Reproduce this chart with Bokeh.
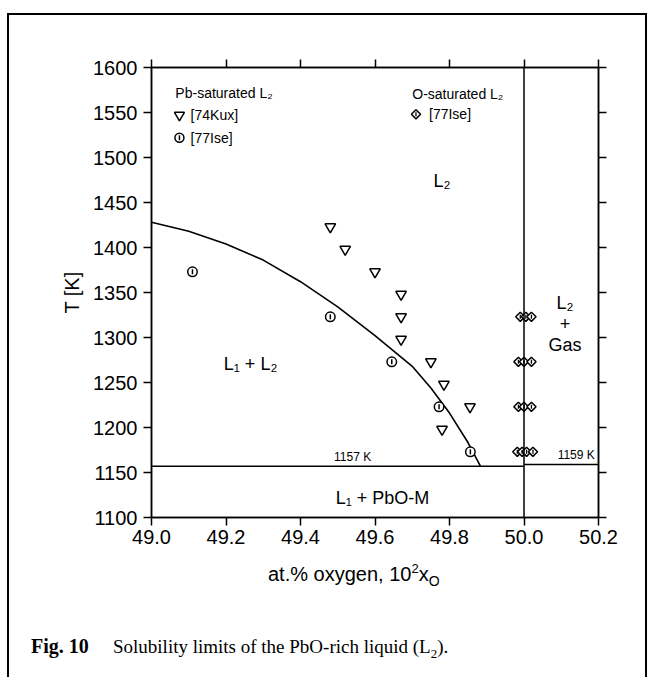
import math
from bokeh.plotting import figure
from bokeh.layouts import column
from bokeh.models import Range1d, LinearAxis, FixedTicker, Label, Span, PrintfTickFormatter, Div
from bokeh.embed import file_html
from bokeh.resources import INLINE

# ---------------- data ----------------
x_ticks = [49.0, 49.2, 49.4, 49.6, 49.8, 50.0, 50.2]
y_ticks = [1100, 1150, 1200, 1250, 1300, 1350, 1400, 1450, 1500, 1550, 1600]

# solubility limit (calculated curve)
curve_x = [49.0, 49.1, 49.2, 49.3, 49.4, 49.5, 49.6, 49.7, 49.75, 49.8, 49.85, 49.883]
curve_T = [1428, 1418, 1404, 1386, 1362, 1334, 1302, 1268, 1244, 1216, 1183, 1157]

# Pb-saturated L2, [74Kux]
kux_x = [49.48, 49.52, 49.60, 49.67, 49.67, 49.67, 49.75, 49.785, 49.855, 49.78]
kux_T = [1423, 1398, 1373, 1348, 1323, 1298, 1273, 1248, 1223, 1198]

# Pb-saturated L2, [77Ise]
ise_pb_x = [49.11, 49.48, 49.645, 49.772, 49.856]
ise_pb_T = [1373, 1323, 1273, 1223, 1173]

# O-saturated L2, [77Ise]
ise_o_x = [49.99, 50.005, 50.02, 49.985, 50.0, 50.02, 49.985, 50.0, 50.02, 49.982, 49.995, 50.007, 50.024]
ise_o_T = [1323, 1323, 1323, 1273, 1273, 1273, 1223, 1223, 1223, 1173, 1173, 1173, 1173]

monotectic_T = 1157
eutectic_T = 1159
stoich_x = 50.0

# ---------------- figure ----------------
FONT = "Liberation Sans"
SERIF = "Liberation Serif"

p = figure(width=654, height=560,
           x_range=Range1d(x_ticks[0], x_ticks[-1]),
           y_range=Range1d(y_ticks[0], y_ticks[-1]),
           output_backend="svg", toolbar_location=None,
           min_border_left=151, min_border_right=56,
           min_border_top=67, min_border_bottom=43)
p.grid.visible = False
p.background_fill_color = "white"
p.border_fill_color = None
p.outline_line_color = "black"
p.outline_line_width = 1.5


def style_axis(ax, ticks, show_labels):
    ax.ticker = FixedTicker(ticks=ticks)
    ax.axis_line_color = "black"
    ax.axis_line_width = 1.5
    ax.major_tick_line_color = "black"
    ax.major_tick_line_width = 1.5
    ax.major_tick_out = 8
    ax.major_tick_in = 0
    ax.minor_tick_line_color = None
    ax.major_label_text_font = FONT
    ax.major_label_text_color = "black"
    ax.major_label_text_font_size = "20px"
    ax.major_label_standoff = 4
    if not show_labels:
        ax.major_label_overrides = {t: "" for t in ticks}


xa = p.xaxis[0]
ya = p.yaxis[0]
style_axis(xa, x_ticks, True)
style_axis(ya, y_ticks, True)
xa.formatter = PrintfTickFormatter(format="%.1f")
ya.major_label_standoff = 6
ya.axis_label = "T [K]"
ya.axis_label_text_font = FONT
ya.axis_label_text_font_size = "20px"
ya.axis_label_text_font_style = "normal"
ya.axis_label_text_color = "black"
ya.axis_label_standoff = 7

top_ax = LinearAxis()
right_ax = LinearAxis()
p.add_layout(top_ax, "above")
p.add_layout(right_ax, "right")
style_axis(top_ax, x_ticks, False)
style_axis(right_ax, y_ticks, False)

# phase boundaries
p.add_layout(Span(location=stoich_x, dimension="height", line_color="black", line_width=1.5))
p.line([x_ticks[0], stoich_x], [monotectic_T, monotectic_T], line_color="black", line_width=1.5)
p.line([stoich_x, x_ticks[-1]], [eutectic_T, eutectic_T], line_color="black", line_width=1.5)
p.line(curve_x, curve_T, line_color="black", line_width=1.6)

# data points
p.scatter(kux_x, kux_T, marker="inverted_triangle", size=10.5, fill_color="white",
          line_color="black", line_width=1.5)
p.scatter(ise_pb_x, ise_pb_T, marker="circle", size=9.5, fill_color="white",
          line_color="black", line_width=1.5)
p.scatter(ise_pb_x, ise_pb_T, marker="dash", size=5, angle=math.pi / 2,
          line_color="black", line_width=1.5)
p.scatter(ise_o_x, ise_o_T, marker="square", size=6.5, angle=math.pi / 4,
          fill_color="white", line_color="black", line_width=1.5)
p.scatter(ise_o_x, ise_o_T, marker="dash", size=4, angle=math.pi / 2,
          line_color="black", line_width=1.3)


def txt(x, y, text, size, align="left", baseline="middle"):
    p.add_layout(Label(x=x, y=y, text=text, text_font=FONT, text_font_size=size,
                       text_align=align, text_baseline=baseline, text_color="black"))


# legend (inside plot)
txt(49.064, 1572, "Pb-saturated L\u2082", "14px")
p.scatter([49.075], [1547], marker="inverted_triangle", size=10, fill_color="white",
          line_color="black", line_width=1.5)
txt(49.105, 1547, "[74Kux]", "14px")
p.scatter([49.075], [1522], marker="circle", size=9, fill_color="white",
          line_color="black", line_width=1.5)
p.scatter([49.075], [1522], marker="dash", size=5, angle=math.pi / 2,
          line_color="black", line_width=1.5)
txt(49.105, 1522, "[77Ise]", "14px")

txt(49.70, 1571, "O-saturated L\u2082", "14px")
p.scatter([49.71], [1548], marker="square", size=6.5, angle=math.pi / 4,
          fill_color="white", line_color="black", line_width=1.5)
p.scatter([49.71], [1548], marker="dash", size=4, angle=math.pi / 2,
          line_color="black", line_width=1.3)
txt(49.745, 1548, "[77Ise]", "14px")

# region labels
txt(49.78, 1474, "L\u2082", "18px", align="center")
txt(50.11, 1338, "L\u2082", "18px", align="center")
txt(50.11, 1316, "+", "18px", align="center")
txt(50.11, 1292, "Gas", "18px", align="center")
txt(49.266, 1271, "L\u2081 + L\u2082", "18px", align="center")
txt(49.62, 1122, "L\u2081 + PbO-M", "18px", align="center")
txt(49.54, 1160, "1157 K", "12px", align="center", baseline="bottom")
txt(50.19, 1162, "1159 K", "12px", align="right", baseline="bottom")

# x-axis title and caption (HTML below the plot)
xtitle = Div(width=654, height=50,
             text=("<div style=\"font-family:'Liberation Sans';font-size:20px;line-height:20px;"
                   "padding-left:263px;padding-top:0px;position:relative;top:-6px;"
                   "color:black;white-space:nowrap\">"
                   "at.% oxygen, 10<sup style=\"font-size:13px\">2</sup>x"
                   "<sub style=\"font-size:14px\">O</sub></div>"))
caption = Div(width=654, height=67,
              text=("<div style=\"font-family:'Liberation Serif';font-size:19px;line-height:20px;"
                    "padding-left:26px;padding-top:11px;color:black;white-space:nowrap\">"
                    "<span style=\"display:inline-block;width:82px;font-weight:bold;font-size:20px\">Fig. 10</span>"
                    "Solubility limits of the PbO-rich liquid (L<sub style=\"font-size:13px\">2</sub>)."
                    "</div>"))

frame_css = ("linear-gradient(black, black) 7px 13px / 2px 664px no-repeat, "
             "linear-gradient(black, black) 7px 13px / 640px 2px no-repeat, "
             "linear-gradient(black, black) 645px 13px / 2px 664px no-repeat, white")
layout = column(p, xtitle, caption, width=654, height=677, spacing=0,
                styles={"background": frame_css})

open("out.html", "w").write(file_html(layout, INLINE))
